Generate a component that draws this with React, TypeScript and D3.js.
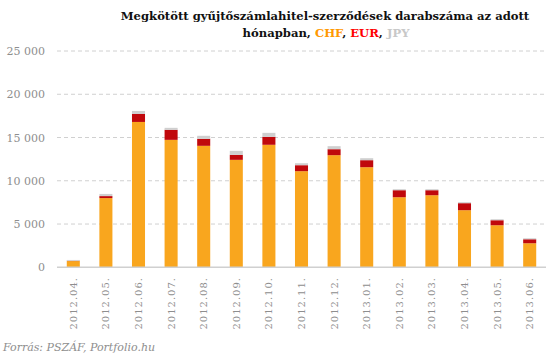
import React from "react";
import * as d3 from "d3";

const months = ["2012.04.", "2012.05.", "2012.06.", "2012.07.", "2012.08.", "2012.09.", "2012.10.", "2012.11.", "2012.12.", "2013.01.", "2013.02.", "2013.03.", "2013.04.", "2013.05.", "2013.06."];
const chf = [720, 8000, 16800, 14730, 14040, 12420, 14160, 11110, 12960, 11570, 8100, 8330, 6600, 4860, 2780];
const eur = [30, 230, 920, 1160, 810, 580, 920, 690, 690, 810, 810, 580, 810, 580, 460];
const jpy = [100, 250, 350, 230, 350, 460, 460, 230, 350, 230, 115, 115, 115, 115, 115];
const yTicks = [0, 5000, 10000, 15000, 20000, 25000];
const seriesKeys = ["chf", "eur", "jpy"];
const colors: Record<string, string> = { chf: "#F9A61E", eur: "#C0080C", jpy: "#CFCFCF" };

export default function App() {
  const W = 548, H = 357;
  const left = 57, right = 546, top = 51, bottom = 267.3;
  const rows = months.map((m, i) => ({ m, chf: chf[i], eur: eur[i], jpy: jpy[i] }));
  const stack = d3.stack<any>().keys(seriesKeys)(rows);
  const x = d3.scaleBand().domain(months).range([left, right]).paddingInner(0.6).paddingOuter(0.3);
  const y = d3.scaleLinear().domain([0, 25000]).range([bottom, top]);
  const fmt = (v: number) => d3.format(",")(v).replace(/,/g, " ");
  const serif = "'DejaVu Serif', serif";

  return (
    <svg width={W} height={H} style={{ position: "absolute", left: 0, top: 0, background: "#fff" }}>
      <text x={325} y={20} textAnchor="middle" fontFamily={serif} fontWeight="bold" fontSize={11.6} fill="#111">
        Megkötött gyűjtőszámlahitel-szerződések darabszáma az adott
      </text>
      <text x={326} y={37} textAnchor="middle" fontFamily={serif} fontWeight="bold" fontSize={11.6} fill="#111">
        hónapban, <tspan fill="#FF9900">CHF</tspan>, <tspan fill="#FF0000">EUR</tspan>, <tspan fill="#C8C8C8">JPY</tspan>
      </text>
      {yTicks.map((t) => (
        <g key={t}>
          {t > 0 && (
            <line x1={left} x2={right} y1={y(t)} y2={y(t)} stroke="#D0D0D0" strokeWidth={1} strokeDasharray="4,3" />
          )}
          <text x={45} y={y(t) + 4} textAnchor="end" fontFamily={serif} fontSize={11} fill="#8E8E8E">
            {fmt(t)}
          </text>
        </g>
      ))}
      {stack.map((s) => (
        <g key={s.key} fill={colors[s.key]}>
          {s.map((d, i) => (
            <rect key={i} x={x(months[i])} width={x.bandwidth()} y={y(d[1])} height={Math.max(0, y(d[0]) - y(d[1]))} />
          ))}
        </g>
      ))}
      <line x1={left} x2={right} y1={bottom} y2={bottom} stroke="#D0D0D0" strokeWidth={1.5} />
      {months.map((m) => (
        <text
          key={m}
          transform={`translate(${(x(m) as number) + x.bandwidth() / 2 + 3.5},${277}) rotate(-90)`}
          textAnchor="end"
          fontFamily={serif}
          fontSize={10}
          letterSpacing={1}
          fill="#8E8E8E"
        >
          {m}
        </text>
      ))}
      <text x={3} y={351} fontFamily={serif} fontStyle="italic" fontSize={11} fill="#8E8E8E">
        Forrás: PSZÁF, Portfolio.hu
      </text>
    </svg>
  );
}
